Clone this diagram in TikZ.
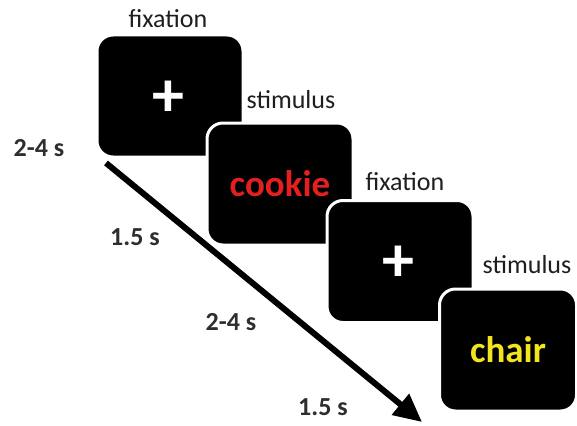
\documentclass[tikz,border=0pt]{standalone}
\usepackage{fontspec}
\setmainfont{Carlito}
\usetikzlibrary{arrows.meta}
\definecolor{lbl}{HTML}{1E1E1E}
\definecolor{durc}{HTML}{2E2E2E}
\definecolor{wred}{HTML}{E2201F}
\definecolor{wyel}{HTML}{F2E51C}
\tikzset{
  screen/.style={rectangle, rounded corners=16pt, fill=black, draw=white, line width=3pt,
    minimum width=146pt, minimum height=122pt, inner sep=0pt},
  cross/.style={text=white, font=\fontsize{64}{64}\selectfont\bfseries, inner sep=0pt},
  word/.style={font=\fontsize{37}{40}\selectfont\bfseries, inner sep=0pt},
  phase/.style={text=lbl, font=\fontsize{26}{30}\selectfont, anchor=base, inner sep=0pt},
  dur/.style={text=durc, font=\fontsize{26}{30}\selectfont\bfseries, anchor=base, inner sep=0pt},
  timeline/.style={line width=6pt, -{Triangle[length=28pt,width=26pt]}}
}
\begin{document}
\begin{tikzpicture}[x=1pt,y=-1pt]
\useasboundingbox (0,0) rectangle (577,425);
\node[screen] (f1) at (170,96) {};
\node[cross] (p1) at (168,99) {+};
\node[screen] (s1) at (280,184) {};
\node[word, text=wred] (w1) at (280,184) {cookie};
\node[screen] (f2) at (400,261.5) {};
\node[cross] (p2) at (398,264) {+};
\node[screen, minimum width=137pt] (s2) at (508,350) {};
\node[word, text=wyel] (w2) at (508,350) {chair};
\node[phase] (l1) at (168,28) {fixation};
\node[phase] (l2) at (291,108) {stimulus};
\node[phase] (l3) at (405,190) {fixation};
\node[phase] (l4) at (527,273) {stimulus};
\node[dur] (d1) at (39,156) {2-4 s};
\node[dur] (d2) at (135,245) {1.5 s};
\node[dur] (d3) at (231,330) {2-4 s};
\node[dur] (d4) at (323,415) {1.5 s};
\coordinate (a0) at (106,163);
\coordinate (a1) at (422,422);
\draw[timeline] (a0) -- (a1);
\end{tikzpicture}
\end{document}
